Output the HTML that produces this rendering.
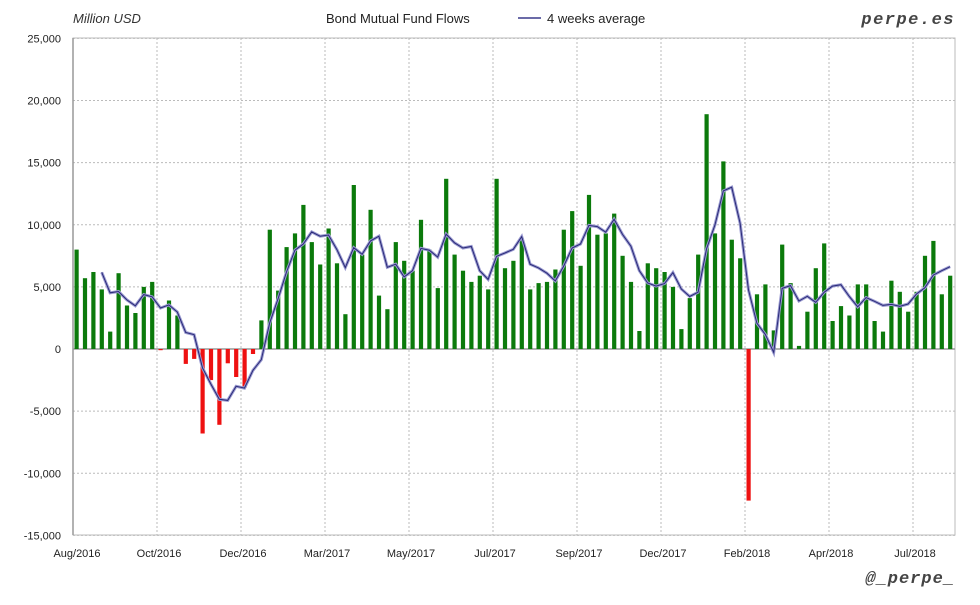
<!DOCTYPE html>
<html><head><meta charset="utf-8"><style>
html,body{margin:0;padding:0;background:#fff;}
svg text{font-family:"Liberation Sans",sans-serif;}
</style></head><body>
<svg id="c" width="980" height="600" xmlns="http://www.w3.org/2000/svg">
<rect width="980" height="600" fill="#fff"/>
<text x="73" y="23" font-size="13" font-style="italic" fill="#333">Million USD</text>
<text x="326" y="23" font-size="13" fill="#222">Bond Mutual Fund Flows</text>
<line x1="518" y1="18" x2="541" y2="18" stroke="#3a3a8c" stroke-width="1.5"/>
<text x="547" y="23" font-size="13" fill="#222">4 weeks average</text>
<text x="955" y="24" font-size="17" font-weight="bold" font-style="italic" text-anchor="end" fill="#444" letter-spacing="1.5" style="font-family:'Liberation Mono',monospace">perpe.es</text>
<text x="955" y="583" font-size="17" font-weight="bold" font-style="italic" text-anchor="end" fill="#444" letter-spacing="1" style="font-family:'Liberation Mono',monospace">@_perpe_</text>
<g id="g"></g>
</svg>
<script>
var v=[8000,5700,6200,4800,1400,6100,3500,2900,5000,5400,-100,3900,2700,-1200,-800,-6800,-2500,-6100,-1150,-2250,-3100,-400,2300,9600,4700,8200,9300,11600,8600,6800,9700,6900,2800,13200,7600,11200,4300,3200,8600,7100,6300,10400,8000,4900,13700,7600,6300,5400,5900,4800,13700,6500,7100,8900,4800,5300,5400,6400,9600,11100,6700,12400,9200,9300,10900,7500,5400,1450,6900,6500,6200,5000,1600,4100,7600,18900,9300,15100,8800,7300,-12200,4400,5200,1500,8400,5300,250,3000,6500,8500,2250,3450,2700,5200,5200,2250,1400,5500,4600,3000,4600,7500,8700,4400,5900];
function Y(val){return 349-val*0.012425;}
var s='';
for(var k=-15000;k<=25000;k+=5000){var y=Y(k).toFixed(1);
 s+='<line x1="73" x2="955" y1="'+y+'" y2="'+y+'" stroke="#bbb" stroke-dasharray="2,2"/>';
 s+='<text x="61" y="'+(+y+4)+'" font-size="11" text-anchor="end" fill="#222">'+k.toLocaleString('en-US')+'</text>';}
var labs=['Aug/2016','Oct/2016','Dec/2016','Mar/2017','May/2017','Jul/2017','Sep/2017','Dec/2017','Feb/2018','Apr/2018','Jul/2018'];
for(var i=0;i<11;i++){var x=73+84*i;
 if(i>0)s+='<line x1="'+x+'" x2="'+x+'" y1="38" y2="535" stroke="#bbb" stroke-dasharray="2,2"/>';
 s+='<text x="'+(i==0?77:x+2)+'" y="557" font-size="11" text-anchor="middle" fill="#222">'+labs[i]+'</text>';}
s+='<rect x="73" y="38" width="882" height="497" fill="none" stroke="#bbb"/>';
s+='<line x1="73" x2="955" y1="349" y2="349" stroke="#999" stroke-width="1.5"/>';
s+='<line x1="73" x2="73" y1="38" y2="535" stroke="#999" stroke-width="1.5"/>';
for(var i=0;i<v.length;i++){var x=76.5+8.4*i-2;var y0=Y(0),y1=Y(v[i]);
 s+='<rect x="'+x.toFixed(1)+'" y="'+Math.min(y0,y1).toFixed(1)+'" width="4.2" height="'+Math.abs(y1-y0).toFixed(1)+'" fill="'+(v[i]<0?'#ee1111':'#0b7a0b')+'"/>';}
var p='';
for(var i=3;i<v.length;i++){var a=(v[i]+v[i-1]+v[i-2]+v[i-3])/4;p+=(i==3?'M':'L')+(76.5+8.4*i).toFixed(1)+','+Y(a).toFixed(1);}
s+='<path d="'+p+'" fill="none" stroke="#9a9ad0" stroke-width="3"/>';
s+='<path d="'+p+'" fill="none" stroke="#2a2a78" stroke-width="1"/>';
document.getElementById('g').innerHTML=s;
</script>
</body></html>
